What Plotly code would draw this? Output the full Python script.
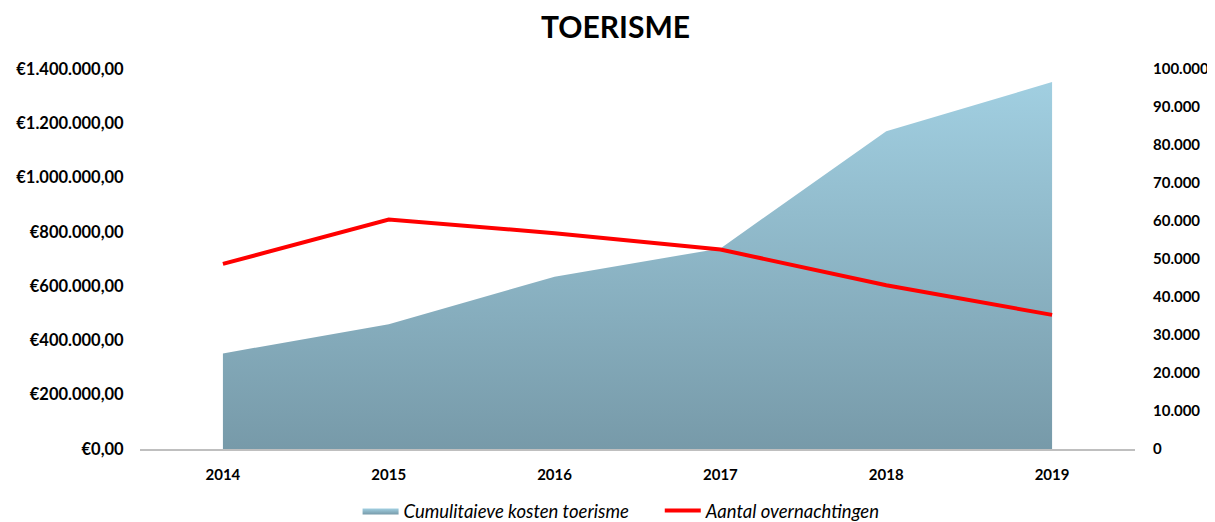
import plotly.graph_objects as go

jaren = ["2014", "2015", "2016", "2017", "2018", "2019"]
kosten = [352000, 460000, 635000, 739000, 1171000, 1352000]
overnachtingen = [48700, 60400, 56800, 52500, 43100, 35300]

font_fam = "Lato, 'Open Sans', sans-serif"

fig = go.Figure()
fig.add_trace(go.Scatter(
    x=jaren, y=kosten, name="Cumulitaieve kosten toerisme      ",
    mode="lines", fill="tozeroy", line=dict(width=0, color="#8DB4C5"),
    fillgradient=dict(type="vertical", start=0, stop=max(kosten),
                      colorscale=[[0, "#779AA9"], [1, "#A1CFE1"]]),
    yaxis="y",
))
fig.add_trace(go.Scatter(
    x=jaren, y=overnachtingen, name="Aantal overnachtingen",
    mode="lines", line=dict(width=4, color="#FF0000"),
    yaxis="y2",
))

# page body has an 8px margin; margins below compensate so the plot lands where the reference has it
fig.update_layout(
    width=1215, height=522,
    paper_bgcolor="white", plot_bgcolor="white",
    separators=",.",
    title=dict(text="<b>TOERISME</b>", x=0.5, xanchor="center", y=1 - 19 / 522, yanchor="middle",
               font=dict(family=font_fam, size=30, color="black")),
    margin=dict(l=132, r=88, t=61, b=81, autoexpand=False),
    font=dict(family=font_fam, color="black"),
    xaxis=dict(type="category", range=[-0.5, 5.5], showgrid=False, showline=True,
               linecolor="#BFBFBF", linewidth=1.5, ticks="outside", ticklen=11,
               tickcolor="rgba(0,0,0,0)", automargin=False,
               tickfont=dict(size=15, family=font_fam, weight="bold")),
    yaxis=dict(range=[0, 1400000], dtick=200000, tickprefix="€", tickformat=",.2f",
               showgrid=False, zeroline=False, showline=False, ticks="outside",
               ticklen=12, tickcolor="rgba(0,0,0,0)", automargin=False,
               tickfont=dict(size=16.5, family=font_fam, weight="bold")),
    yaxis2=dict(range=[0, 100000], dtick=10000, tickformat=",d", overlaying="y",
                side="right", showgrid=False, zeroline=False, showline=False,
                ticks="outside", ticklen=14, tickcolor="rgba(0,0,0,0)", automargin=False,
                tickfont=dict(size=15, family=font_fam, weight="bold")),
    legend=dict(orientation="h", x=0.484, xanchor="center", yref="container", y=-0.006,
                yanchor="bottom", traceorder="normal",
                font=dict(size=18.5, family=font_fam, style="italic"),
                itemwidth=36),
    showlegend=True,
)

fig.write_html("out.html")
